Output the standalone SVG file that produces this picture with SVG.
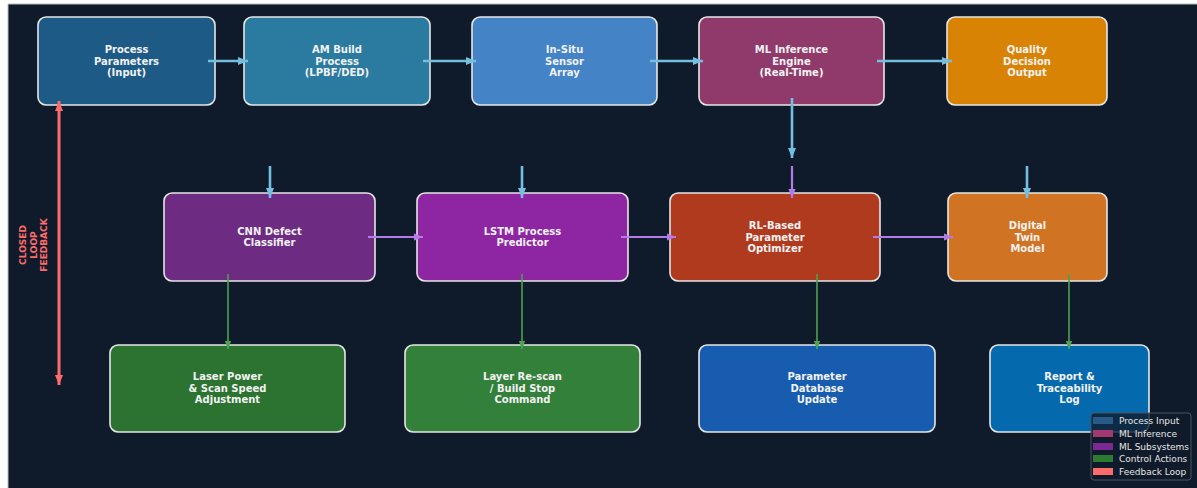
<svg xmlns="http://www.w3.org/2000/svg" width="1197" height="488" viewBox="0 0 1197 488">
<defs>
<style>
.node rect{stroke:#e6e6e6;stroke-width:1.6}
.node text{font-family:"DejaVu Sans",sans-serif;font-weight:bold;font-size:10px;fill:#f2f2f2;text-anchor:middle}
.blue{stroke:#74bfdf;stroke-width:2.6;fill:none}
.purple{stroke:#b27be8;stroke-width:2.2;fill:none}
.green{stroke:#4aa34f;stroke-width:1.6;fill:none}
.red{stroke:#ff6b6b;stroke-width:3;fill:none}
.fb{font-family:"DejaVu Sans",sans-serif;font-weight:bold;font-size:9px;fill:#ff6b6b;text-anchor:middle}
.lg{font-family:"DejaVu Sans",sans-serif;font-size:9px;fill:#e6e6e6}
</style>
<marker id="ab" markerUnits="userSpaceOnUse" markerWidth="10" markerHeight="10" viewBox="0 0 10 10" refX="10" refY="5" orient="auto"><path d="M0,1 L10,5 L0,9 z" fill="#74bfdf"/></marker>
<marker id="ap" markerUnits="userSpaceOnUse" markerWidth="9" markerHeight="9" viewBox="0 0 10 10" refX="10" refY="5" orient="auto"><path d="M0,1 L10,5 L0,9 z" fill="#b27be8"/></marker>
<marker id="ag" markerUnits="userSpaceOnUse" markerWidth="8" markerHeight="8" viewBox="0 0 10 10" refX="10" refY="5" orient="auto"><path d="M0,1 L10,5 L0,9 z" fill="#4aa34f"/></marker>
<marker id="ar" markerUnits="userSpaceOnUse" markerWidth="10" markerHeight="10" viewBox="0 0 10 10" refX="10" refY="5" orient="auto-start-reverse"><path d="M0,1 L10,5 L0,9 z" fill="#ff6b6b"/></marker>
</defs>
<rect x="0" y="0" width="1197" height="488" fill="#ffffff"/>
<rect x="8" y="4" width="1189" height="484" fill="#0f1b2a"/>
<line x1="8" y1="4" x2="1197" y2="4" stroke="#bbbbbb" stroke-width="1"/>
<line x1="8" y1="4" x2="8" y2="488" stroke="#bbbbbb" stroke-width="1"/>

<g id="n-params" class="node"><rect x="38" y="17" width="177" height="88" rx="8" fill="#1e5a86"/>
<text x="126.5" y="53">Process</text><text x="126.5" y="64.5">Parameters</text><text x="126.5" y="76">(Input)</text></g>
<g id="n-am" class="node"><rect x="244" y="17" width="186" height="88" rx="8" fill="#2b7ba0"/>
<text x="337" y="53">AM Build</text><text x="337" y="64.5">Process</text><text x="337" y="76">(LPBF/DED)</text></g>
<g id="n-insitu" class="node"><rect x="472" y="17" width="185" height="88" rx="8" fill="#4484c6"/>
<text x="564.5" y="53">In-Situ</text><text x="564.5" y="64.5">Sensor</text><text x="564.5" y="76">Array</text></g>
<g id="n-ml" class="node"><rect x="699" y="17" width="185" height="88" rx="8" fill="#8f3a6b"/>
<text x="791.5" y="53">ML Inference</text><text x="791.5" y="64.5">Engine</text><text x="791.5" y="76">(Real-Time)</text></g>
<g id="n-quality" class="node"><rect x="947" y="17" width="160" height="88" rx="8" fill="#d98305"/>
<text x="1027" y="53">Quality</text><text x="1027" y="64.5">Decision</text><text x="1027" y="76">Output</text></g>

<g id="n-cnn" class="node"><rect x="164" y="193" width="211" height="88" rx="8" fill="#6d2b82"/>
<text x="269.5" y="234.5">CNN Defect</text><text x="269.5" y="246">Classifier</text></g>
<g id="n-lstm" class="node"><rect x="417" y="193" width="211" height="88" rx="8" fill="#8e26a3"/>
<text x="522.5" y="234.5">LSTM Process</text><text x="522.5" y="246">Predictor</text></g>
<g id="n-rl" class="node"><rect x="670" y="193" width="210" height="88" rx="8" fill="#b03a1e"/>
<text x="775" y="229">RL-Based</text><text x="775" y="240.5">Parameter</text><text x="775" y="252">Optimizer</text></g>
<g id="n-dt" class="node"><rect x="948" y="193" width="159" height="88" rx="8" fill="#d07423"/>
<text x="1027.5" y="229">Digital</text><text x="1027.5" y="240.5">Twin</text><text x="1027.5" y="252">Model</text></g>

<g id="n-laser" class="node"><rect x="110" y="345" width="235" height="87" rx="8" fill="#2c7231"/>
<text x="227.5" y="380">Laser Power</text><text x="227.5" y="391.5">&amp; Scan Speed</text><text x="227.5" y="403">Adjustment</text></g>
<g id="n-layer" class="node"><rect x="405" y="345" width="235" height="87" rx="8" fill="#33803b"/>
<text x="522.5" y="380">Layer Re-scan</text><text x="522.5" y="391.5">/ Build Stop</text><text x="522.5" y="403">Command</text></g>
<g id="n-db" class="node"><rect x="699" y="345" width="236" height="87" rx="8" fill="#175cae"/>
<text x="817" y="380">Parameter</text><text x="817" y="391.5">Database</text><text x="817" y="403">Update</text></g>
<g id="n-report" class="node"><rect x="990" y="345" width="159" height="87" rx="8" fill="#056aad"/>
<text x="1069.5" y="380">Report &amp;</text><text x="1069.5" y="391.5">Traceability</text><text x="1069.5" y="403">Log</text></g>

<g id="connectors">
<line class="blue" x1="208" y1="61" x2="248" y2="61" marker-end="url(#ab)"/>
<line class="blue" x1="423" y1="61" x2="476" y2="61" marker-end="url(#ab)"/>
<line class="blue" x1="650" y1="61" x2="703" y2="61" marker-end="url(#ab)"/>
<line class="blue" x1="877" y1="61" x2="952" y2="61" marker-end="url(#ab)"/>
<line class="blue" x1="792" y1="98" x2="792" y2="158" marker-end="url(#ab)"/>
<line class="blue" x1="270" y1="166" x2="270" y2="198" marker-end="url(#ab)"/>
<line class="blue" x1="522" y1="166" x2="522" y2="198" marker-end="url(#ab)"/>
<line class="blue" x1="1027" y1="166" x2="1027" y2="198" marker-end="url(#ab)"/>
<line class="purple" x1="792" y1="166" x2="792" y2="198" marker-end="url(#ap)"/>
<line class="purple" x1="368" y1="237" x2="423" y2="237" marker-end="url(#ap)"/>
<line class="purple" x1="621" y1="237" x2="676" y2="237" marker-end="url(#ap)"/>
<line class="purple" x1="873" y1="237" x2="953" y2="237" marker-end="url(#ap)"/>
<line class="green" x1="228" y1="274" x2="228" y2="349" marker-end="url(#ag)"/>
<line class="green" x1="522" y1="274" x2="522" y2="349" marker-end="url(#ag)"/>
<line class="green" x1="817" y1="274" x2="817" y2="349" marker-end="url(#ag)"/>
<line class="green" x1="1069" y1="274" x2="1069" y2="349" marker-end="url(#ag)"/>
<line class="red" x1="59" y1="101" x2="59" y2="385" marker-start="url(#ar)" marker-end="url(#ar)"/>
</g>

<g id="feedback-label" transform="translate(33,245) rotate(-90)">
<text class="fb" x="0" y="-7">CLOSED</text>
<text class="fb" x="0" y="3.5">LOOP</text>
<text class="fb" x="0" y="14">FEEDBACK</text>
</g>

<g id="legend">
<rect x="1091" y="413" width="100" height="67" rx="3" fill="#0f1b2a" fill-opacity="0.8" stroke="#4a5563" stroke-width="1"/>
<rect x="1093" y="417" width="20" height="7" fill="#2a5a88"/><text class="lg" x="1119" y="424">Process Input</text>
<rect x="1093" y="430" width="20" height="7" fill="#a03a70"/><text class="lg" x="1119" y="437">ML Inference</text>
<rect x="1093" y="443" width="20" height="7" fill="#7b2a94"/><text class="lg" x="1119" y="450">ML Subsystems</text>
<rect x="1093" y="455" width="20" height="7" fill="#2d7a32"/><text class="lg" x="1119" y="462">Control Actions</text>
<rect x="1093" y="468" width="20" height="7" fill="#ff6b6b"/><text class="lg" x="1119" y="475">Feedback Loop</text>
</g>
</svg>
